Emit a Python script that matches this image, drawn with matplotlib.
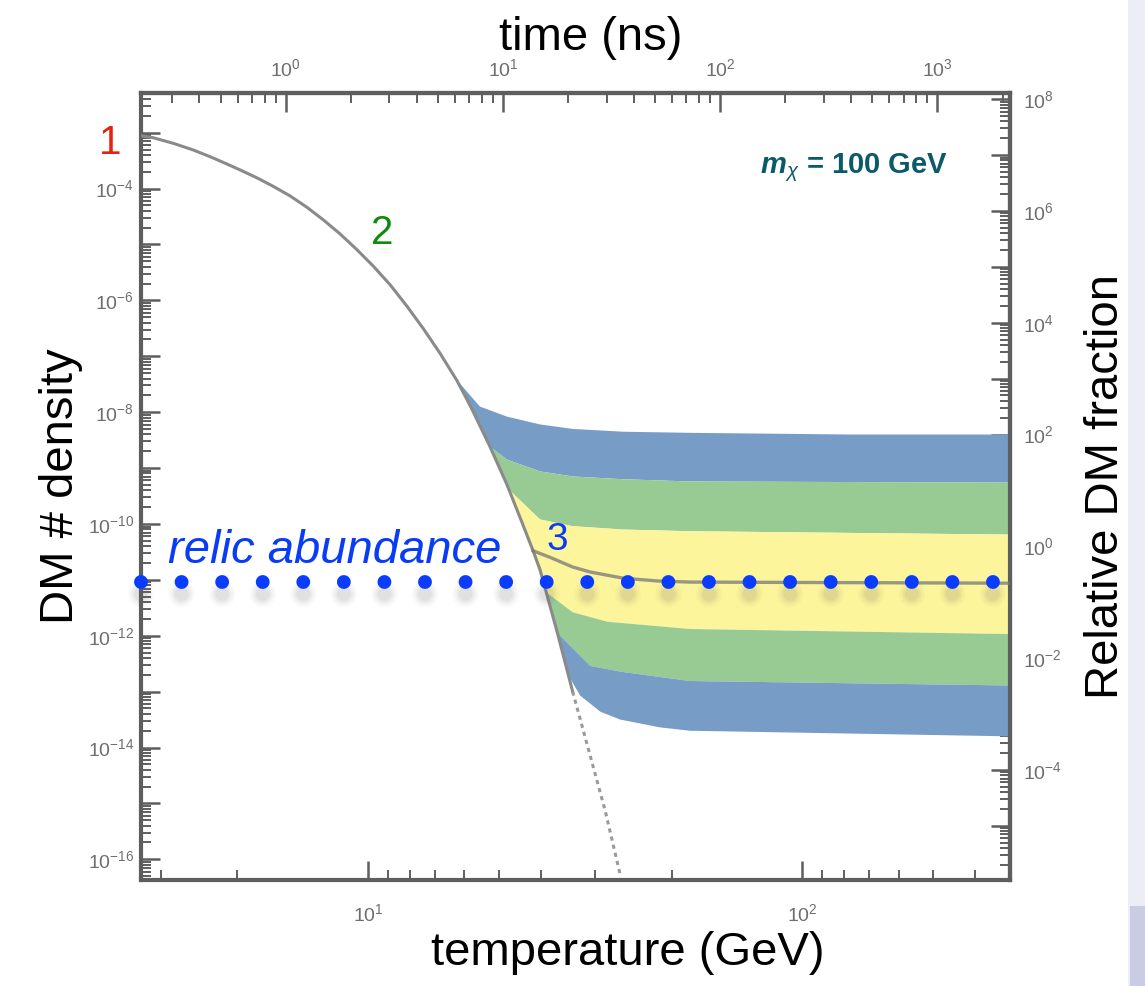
import numpy as np
import matplotlib.pyplot as plt
from matplotlib import transforms
from matplotlib.ticker import LogLocator, FixedLocator, FuncFormatter, NullFormatter
from matplotlib.patches import Rectangle

plt.rcParams['font.family'] = ['Liberation Sans', 'DejaVu Sans']
plt.rcParams['mathtext.fontset'] = 'custom'
plt.rcParams['mathtext.rm'] = 'Liberation Sans'
plt.rcParams['mathtext.it'] = 'Liberation Sans:italic'
plt.rcParams['mathtext.bf'] = 'Liberation Sans:bold'
plt.rcParams['mathtext.bfit'] = 'Liberation Sans:italic:bold'
plt.rcParams['lines.scale_dashes'] = False

# equilibrium density, temperature in GeV and log10 of the number density
eq_T = [3.0, 3.20, 3.56, 3.96, 4.33, 4.73, 5.07, 5.54, 6.05, 6.61, 7.22, 7.89,
        8.62, 9.42, 10.29, 11.24, 12.28, 13.42, 14.66, 16.01, 16.89, 17.46,
        19.1, 20.9, 22.7, 24.0, 24.9, 27.3, 29.6, 32.1, 35.2, 38.1]
eq_logn = [-3.055, -3.09, -3.19, -3.31, -3.43, -3.56, -3.665, -3.805, -3.96,
           -4.13, -4.33, -4.56, -4.81, -5.09, -5.39, -5.72, -6.10, -6.51,
           -6.95, -7.43, -7.77, -7.99, -8.62, -9.30, -10.00, -10.48, -10.82,
           -11.95, -13.00, -14.00, -15.14, -16.28]
eq_solid_end = 28  # past this point the curve is only dashed

# freeze-out curve for m = 100 GeV
fo_T = [24.0, 26.3, 29.6, 32.5, 38.7, 46.4, 55.2, 301]
fo_logn = [-10.48, -10.60, -10.77, -10.86, -10.97, -11.02, -11.04, -11.06]

# band edges, top to bottom
edge1_T = [16.0, 18.1, 20.9, 24.9, 29.6, 38.7, 55.2, 129, 301]
edge1_n = [-7.42, -7.90, -8.08, -8.22, -8.30, -8.35, -8.37, -8.40, -8.40]
edge2_T = [19.1, 20.9, 24.9, 29.6, 38.7, 55.2, 301]
edge2_n = [-8.62, -8.85, -9.06, -9.15, -9.20, -9.24, -9.26]
edge3_T = [21.2, 24.9, 29.6, 38.7, 55.2, 301]
edge3_n = [-9.40, -9.92, -10.04, -10.10, -10.13, -10.19]
edge4_T = [25.7, 29.6, 35.6, 55.2, 301]
edge4_n = [-11.22, -11.58, -11.75, -11.88, -11.97]
edge5_T = [27.3, 32.5, 38.7, 55.2, 301]
edge5_n = [-11.95, -12.54, -12.65, -12.81, -12.89]
edge6_T = [28.9, 30.8, 34.3, 38.1, 47.1, 55.2, 301]
edge6_n = [-12.70, -13.07, -13.36, -13.50, -13.64, -13.70, -13.80]
band_colors = ['#779cc6', '#98ca93', '#fdf59b', '#98ca93', '#779cc6']

relic_logn = -11.04
relic_T = [3.0, 275]

time_ticks = [1, 10, 100, 1000]
temp_ticks = [10, 100]

frac_shift = 10**10.40     # density -> relative fraction
t_coef = 0.0239            # time (ns) = t_coef * T^2

T_lim = (3.0, 301)
n_lim = (10**-16.37, 10**-2.29)

fig = plt.figure(figsize=(11.45, 9.86), dpi=100)
ax = fig.add_axes([141/1145, 1 - 880/986, 869/1145, 787/986])
ax.set_xscale('log')
ax.set_yscale('log')
ax.set_xlim(*T_lim)
ax.set_ylim(*n_lim)

edges = [(edge1_T, edge1_n), (edge2_T, edge2_n), (edge3_T, edge3_n),
         (edge4_T, edge4_n), (edge5_T, edge5_n), (edge6_T, edge6_n)]
for (tu, nu), (tl, nl), col in zip(edges[:-1], edges[1:], band_colors):
    xs = np.concatenate([tu, tl[::-1]])
    ys = 10.0**np.concatenate([nu, nl[::-1]])
    ax.fill(xs, ys, color=col, lw=0, zorder=1)

eq_T = np.array(eq_T)
eq_n = 10.0**np.array(eq_logn)
ax.plot(eq_T[:eq_solid_end + 1], eq_n[:eq_solid_end + 1], color='#8a8a8a', lw=2.2,
        solid_joinstyle='round', zorder=3)
ax.plot(eq_T[eq_solid_end:], eq_n[eq_solid_end:], color='#9a9a9a', lw=2.2,
        ls=(0, (3, 3)), zorder=3)
ax.plot(fo_T, 10.0**np.array(fo_logn), color='#777777', lw=2.4, alpha=0.75,
        solid_joinstyle='round', zorder=3)

# relic abundance dots with a soft shadow
relic_n = [10**relic_logn] * 2
dots = (0, (0.01, 29.2))
shadow = transforms.offset_copy(ax.transData, fig=fig, x=0, y=-12, units='dots')
for lw, a in [(19, 0.03), (16, 0.04), (13, 0.05), (10, 0.07)]:
    ax.plot(relic_T, relic_n, ls=dots, lw=lw, color='#606060', alpha=a,
            dash_capstyle='round', transform=shadow, clip_on=False, zorder=5)
ax.plot(relic_T, relic_n, ls=dots, lw=10, color='#0a3cff',
        dash_capstyle='round', clip_on=False, zorder=6)

ax.text(0.031, 0.403, 'relic abundance', transform=ax.transAxes, fontsize=34,
        style='italic', color='#0a3cf5', va='baseline', zorder=7)
ax.text(-0.0357, 0.9365, '1', transform=ax.transAxes, fontsize=29, color='#e8200c',
        ha='center', va='center')
ax.text(0.2773, 0.822, '2', transform=ax.transAxes, fontsize=29, color='#0b8c0b',
        ha='center', va='center')
ax.text(0.4787, 0.432, '3', transform=ax.transAxes, fontsize=28, color='#0a3cf5',
        ha='center', va='center', zorder=7)
ax.text(0.712, 0.898, r'$\mathbfit{m}_{\chi}$ = 100 GeV', transform=ax.transAxes,
        fontsize=21, fontweight='bold', color='#0a5a6a', va='baseline')

spine_col = '#5e5e5e'
tick_kw = dict(direction='in', colors=spine_col, labelcolor='#6e6e6e', labelsize=14)


def even_decade(v, pos):
    e = int(round(np.log10(v)))
    return r'$\mathdefault{10^{%d}}$' % e if e % 2 == 0 else ''


def decade(v, pos):
    return r'$\mathdefault{10^{%d}}$' % int(round(np.log10(v)))


ax.yaxis.set_major_locator(LogLocator(base=10, numticks=40))
ax.yaxis.set_major_formatter(FuncFormatter(even_decade))
ax.yaxis.set_minor_locator(LogLocator(base=10, subs=np.arange(2, 10), numticks=40))
ax.yaxis.set_minor_formatter(NullFormatter())

ax.xaxis.set_major_locator(FixedLocator(temp_ticks))
ax.xaxis.set_major_formatter(FuncFormatter(decade))
minor_T = [10**(k + 1) / m for k in range(3) for m in range(2, 10)]
ax.xaxis.set_minor_locator(FixedLocator([v for v in minor_T if T_lim[0] < v < T_lim[1]]))
ax.xaxis.set_minor_formatter(NullFormatter())

ax.tick_params(which='major', length=14, width=1.8, **tick_kw)
ax.tick_params(which='minor', length=7, width=1.4, **tick_kw)
ax.tick_params(axis='x', which='major', pad=17)
ax.tick_params(axis='y', which='major', pad=5)
for s in ax.spines.values():
    s.set_color(spine_col)
    s.set_linewidth(3)

top = ax.secondary_xaxis('top', functions=(lambda T: t_coef * T**2,
                                           lambda t: np.sqrt(np.abs(t) / t_coef)))
top.xaxis.set_major_locator(FixedLocator(time_ticks))
top.xaxis.set_major_formatter(FuncFormatter(decade))
top.xaxis.set_minor_locator(LogLocator(base=10, subs=np.arange(2, 10), numticks=20))
top.xaxis.set_minor_formatter(NullFormatter())
top.tick_params(which='major', length=14, width=1.8, pad=9, **tick_kw)
top.tick_params(which='minor', length=7, width=1.4, **tick_kw)
top.spines['top'].set_color(spine_col)
top.spines['top'].set_linewidth(3)
top.set_xlabel('time (ns)', fontsize=34, labelpad=6, x=0.517)

right = ax.secondary_yaxis('right', functions=(lambda n: n * frac_shift,
                                               lambda f: f / frac_shift))
right.yaxis.set_major_locator(LogLocator(base=10, numticks=40))
right.yaxis.set_major_formatter(FuncFormatter(even_decade))
right.yaxis.set_minor_locator(LogLocator(base=10, subs=np.arange(2, 10), numticks=40))
right.yaxis.set_minor_formatter(NullFormatter())
right.tick_params(which='major', length=14, width=1.8, pad=9, **tick_kw)
right.tick_params(which='minor', length=7, width=1.4, **tick_kw)
right.spines['right'].set_color(spine_col)
right.spines['right'].set_linewidth(3)
right.set_ylabel('Relative DM fraction', fontsize=34, labelpad=16)

ax.set_xlabel('temperature (GeV)', fontsize=34, labelpad=4, x=0.56)
ax.set_ylabel('DM # density', fontsize=34, labelpad=3)

# slide edge on the far right
fig.add_artist(Rectangle((1128/1145, 0), 17/1145, 1, transform=fig.transFigure,
                         color='#ededf6', lw=0, zorder=0))
fig.add_artist(Rectangle((1130/1145, 0), 15/1145, 80/986, transform=fig.transFigure,
                         color='#c9cce3', lw=0, zorder=0))

fig.savefig('out.png', dpi=100)
